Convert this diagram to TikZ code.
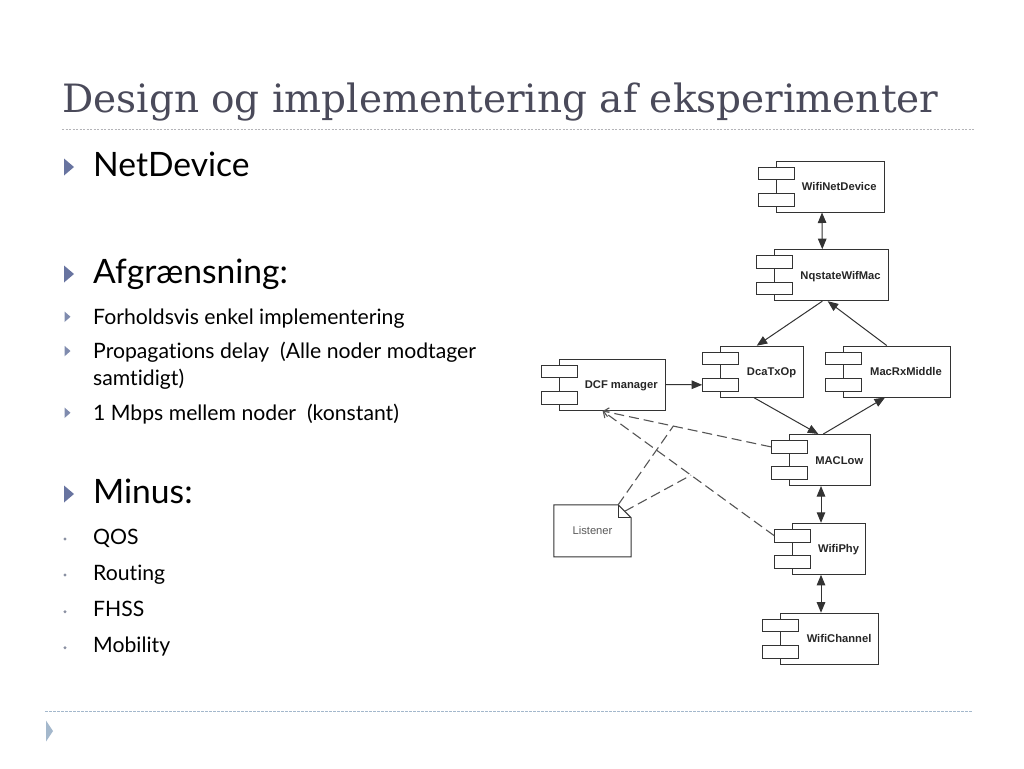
\documentclass[tikz,border=0pt]{standalone}
\usepackage{fontspec}
\setmainfont{Lato}[Ligatures=NoCommon]
\newfontfamily\titlefont{DejaVu Serif}
\newfontfamily\diafont{Liberation Sans}
\usetikzlibrary{arrows.meta,calc}
\definecolor{titlecol}{HTML}{4A4A5A}
\definecolor{bulletcol}{HTML}{6874A0}
\definecolor{subbullet}{HTML}{7F8BAE}
\definecolor{dotcol}{HTML}{8A90A2}
\definecolor{rulecol}{HTML}{B4B4B8}
\definecolor{rulebot}{HTML}{A4B8CC}
\definecolor{linecol}{HTML}{333333}
\definecolor{dashcol}{HTML}{555555}
\newcommand\mkports[1]{%
  \node[port] (#1-p1) at ($(#1.north west)+(0.5,12.85)$) {};
  \node[port] (#1-p2) at ($(#1.south west)+(0.5,-12.85)$) {};}
\begin{document}
\begin{tikzpicture}[x=1pt,y=-1pt,
  comp/.style={draw=linecol, line width=1pt, fill=white, inner sep=0pt,
    minimum height=51pt, text height=8pt, text depth=0pt,
    font=\diafont\bfseries\fontsize{11.2}{12}\selectfont, text=black!85},
  port/.style={draw=linecol, line width=1pt, fill=white, minimum width=36pt,
    minimum height=12.7pt, inner sep=0pt},
  arr/.style={draw=linecol, line width=1pt, -{Triangle[length=10.5pt,width=8.5pt]}},
  darr/.style={draw=linecol, line width=1pt, {Triangle[length=10.5pt,width=8.5pt]}-{Triangle[length=10.5pt,width=8.5pt]}},
  dep/.style={draw=dashcol, line width=1.1pt, dash pattern=on 10pt off 5pt, -{Straight Barb[length=5pt,width=9pt]}},
  depl/.style={draw=dashcol, line width=1.1pt, dash pattern=on 10pt off 5pt},
  head/.style={anchor=base west, inner sep=0pt, font=\fontsize{33.6}{36}\selectfont, text=black},
  item/.style={anchor=base west, inner sep=0pt, font=\fontsize{21.2}{24}\selectfont, text=black},
  tri/.style={fill=bulletcol, draw=none},
  subtri/.style={fill=subbullet, draw=none},
]
\useasboundingbox (0,0) rectangle (1024,768);
\fill[white] (0,0) rectangle (1024,768);

% title
\node[anchor=base west, inner sep=0pt, font=\titlefont\fontsize{39}{42}\selectfont, text=titlecol] (title) at (62,112.5) {Design og implementering af eksperimenter};
\draw[rulecol, line width=1pt, dash pattern=on 2pt off 1.5pt] (62,129) -- (975,129);
\draw[rulebot, line width=1pt, dash pattern=on 2.5pt off 1.5pt] (45,711) -- (972,711);
\fill[rulebot] (46,720.5) -- (46,741.5) -- (53,731) -- cycle;

% bullets text
\node[head] (t1) at (93,176) {NetDevice};
\fill[tri] (64,158.5) -- (64,175.5) -- (74,167) -- cycle;
\node[head] (t2) at (93,283.3) {Afgrænsning:};
\fill[tri] (64,265.5) -- (64,282.5) -- (74,274) -- cycle;
\node[item] (t3) at (93,324) {Forholdsvis enkel implementering};
\fill[subtri] (64.5,311.5) -- (64.5,322) -- (70.5,316.75) -- cycle;
\node[item] (t4) at (93,358.3) {Propagations delay\ \ (Alle noder modtager};
\fill[subtri] (64.5,345.8) -- (64.5,356.3) -- (70.5,351) -- cycle;
\node[item] (t5) at (93,385) {samtidigt)};
\node[item] (t6) at (93,420) {1 Mbps mellem noder\ \ (konstant)};
\fill[subtri] (64.5,407.5) -- (64.5,418) -- (70.5,412.75) -- cycle;
\node[head] (t7) at (93,503.3) {Minus:};
\fill[tri] (64,485.5) -- (64,502.5) -- (74,494) -- cycle;
\node[item] (t8) at (93,544) {QOS};
\fill[dotcol] (65,539) circle (1.7);
\node[item] (t9) at (93,580) {Routing};
\fill[dotcol] (65,575) circle (1.7);
\node[item] (t10) at (93,616.7) {FHSS};
\fill[dotcol] (65,611.7) circle (1.7);
\node[item] (t11) at (93,652.7) {Mobility};
\fill[dotcol] (65,647.7) circle (1.7);

% components
\node[comp, minimum width=108pt] (wnd) at (830,186.5) {\hspace*{18.5pt}WifiNetDevice};
\mkports{wnd}
\node[comp, minimum width=114pt] (nq) at (831.3,275.2) {\hspace*{18.5pt}NqstateWifMac};
\mkports{nq}
\node[comp, minimum width=83.3pt] (dca) at (762.3,371.7) {\hspace*{18.5pt}DcaTxOp};
\mkports{dca}
\node[comp, minimum width=106.7pt] (mrx) at (896.7,371.5) {\hspace*{18.5pt}MacRxMiddle};
\mkports{mrx}
\node[comp, minimum width=106pt] (dcf) at (612,384.5) {\hspace*{18.5pt}DCF manager};
\mkports{dcf}
\node[comp, minimum width=81.4pt] (mlow) at (830,460) {\hspace*{18.5pt}MACLow};
\mkports{mlow}
\node[comp, minimum width=73.3pt] (phy) at (829.3,548.8) {\hspace*{18.5pt}WifiPhy};
\mkports{phy}
\node[comp, minimum width=98.3pt] (chan) at (829.8,638.7) {\hspace*{18.5pt}WifiChannel};
\mkports{chan}

% listener note
\node[minimum width=77pt, minimum height=51.7pt, inner sep=0pt] (lst) at (592.5,530.8) {};
\draw[linecol, line width=1pt, fill=white]
  (lst.south west) -- (lst.north west) -- ($(lst.north east)+(-13,0)$)
  -- ($(lst.north east)+(0,13)$) -- (lst.south east) -- cycle;
\draw[linecol, line width=0.8pt] ($(lst.north east)+(-13,0)$) -- ($(lst.north east)+(-13,13)$) -- ($(lst.north east)+(0,13)$);
\node[inner sep=0pt, text height=8pt, text depth=0pt, font=\diafont\fontsize{11.2}{12}\selectfont, text=black!65] (lsttext) at (lst.center) {Listener};

% solid connectors
\draw[darr] ([xshift=-8pt]wnd.south) -- ([xshift=-9pt]nq.north);
\draw[arr] ([xshift=-9pt]nq.south) -- ([xshift=-5.6pt]dca.north);
\draw[arr] ([xshift=-10pt]mrx.north) -- ([xshift=-3.6pt]nq.south);
\draw[arr] (dcf.east) -- (dca-p2.west);
\draw[arr] ([xshift=-8.3pt]dca.south) -- ([xshift=-11.7pt]mlow.north);
\draw[arr] ([xshift=-6.7pt]mlow.north) -- ([xshift=-11.7pt]mrx.south);
\draw[darr] ([xshift=-9pt]mlow.south) -- ([xshift=-8.3pt]phy.north);
\draw[darr] ([xshift=-8.3pt]phy.south) -- ([xshift=-8.8pt]chan.north);

% dependencies
\coordinate (dcfin) at ([xshift=-9.3pt,yshift=-0.5pt]dcf.south);
\draw[dep] (mlow-p1.west) -- (dcfin);
\draw[dep] (phy-p1.west) -- (dcfin);
\coordinate (j1) at ($(mlow-p1.west)!0.58!(dcfin)$);
\coordinate (j2) at ($(phy-p1.west)!0.485!(dcfin)$);
\coordinate (l1) at ($(lst.north east)+(-13,0)$);
\coordinate (l2) at ($(lst.north east)+(-6.5,6.5)$);
\draw[depl] (l1) -- (j1);
\draw[depl] (l2) -- (j2);
\end{tikzpicture}
\end{document}
